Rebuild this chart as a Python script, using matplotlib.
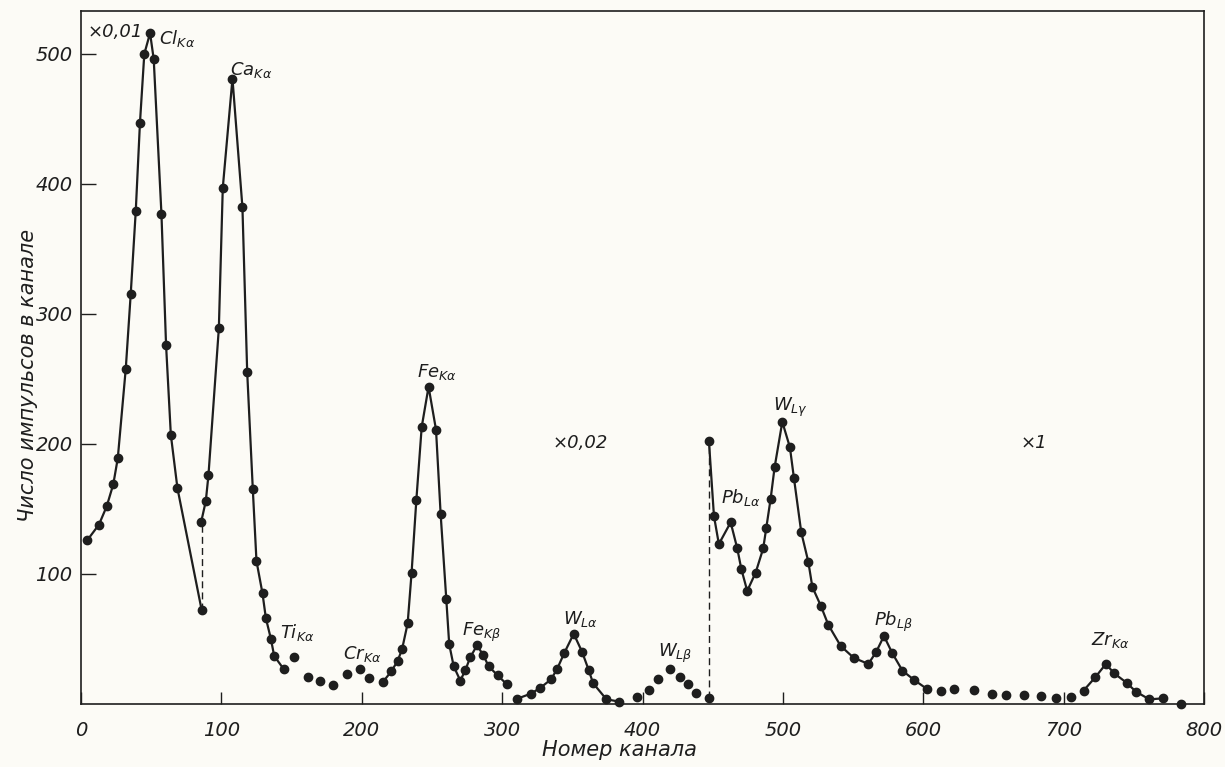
import matplotlib
matplotlib.use('Agg')
import matplotlib.pyplot as plt

plt.rcParams['font.family'] = ['Liberation Sans Narrow', 'DejaVu Sans']
plt.rcParams['font.style'] = 'italic'
plt.rcParams['mathtext.fontset'] = 'dejavusans'

# Cl Ka peak (x0.01), ends at the dashed step
cl_ch = [4.5, 12.8, 18.3, 23, 26.2, 31.9, 35.4, 39, 42, 45.1, 49.2, 51.8, 57.3, 60.6, 64, 68.7, 86]
cl_cnt = [126, 138, 152, 169, 189, 258, 315, 379, 447, 500, 516, 496, 377, 276, 207, 166, 72]

# Ca Ka peak
ca_ch = [85.6, 88.9, 90.8, 98.2, 101, 107.9, 115, 118.4, 122.4, 125, 129.3, 131.7, 135.3, 137.6, 144.3]
ca_cnt = [140, 156, 176, 289, 397, 481, 382, 255, 165, 110, 85, 66, 50, 37, 27]

# loose points Ti / Cr region
ti_ch = [151.4, 162, 170.4, 179.5, 189.4, 198.5, 205.3]
ti_cnt = [36, 21, 18, 14.6, 23, 27, 20]

# Cr -> Fe Ka -> Fe Kb
fe_ch = [215.1, 221, 225.5, 228.7, 232.7, 235.5, 238.9, 242.7, 247.6, 252.9, 256.2, 260.2, 262.3,
         265.5, 270.2, 273.8, 277.3, 282.1, 286.4, 290.4, 296.8, 303.5]
fe_cnt = [17, 25, 33, 42, 62, 101, 157, 213, 244, 211, 146, 81, 46,
          29, 18, 26, 36, 45, 38, 29, 22, 15]

# W La
wla_ch = [310.6, 320.6, 327.3, 334.9, 339.2, 344.4, 351, 357, 361.7, 364.8, 374.3, 383.6]
wla_cnt = [4, 8, 12.5, 19, 27, 39.5, 54, 40, 26, 16, 3.6, 1.8]

# W Lb loose points
wlb_ch = [396.2, 404.5, 411.2, 419.5, 426.6, 432.3, 437.8, 447.3]
wlb_cnt = [5, 10.8, 19, 26.7, 20.5, 15, 8.7, 4.4]

# Pb La, W Lg, Pb Lb (x1)
wlg_ch = [447.3, 450.9, 454.4, 462.8, 467.5, 470.4, 474.6, 480.6, 486, 488.2, 491.3, 494.1, 499.6,
          505, 507.9, 513.1, 518.1, 521, 527, 532.4, 541.2, 550.5, 560.9, 566.6, 572, 578, 585.2,
          593.5, 603]
wlg_cnt = [202.5, 144.6, 123, 139.7, 119.7, 103.8, 87, 101, 119.7, 135.6, 158, 182, 217,
           197.5, 173.6, 132, 109.5, 90, 75.6, 60.8, 44.6, 35.5, 30.8, 40.3, 52.3, 39, 25.6,
           18.5, 11.3]

# background loose points
bg_ch = [612.5, 622, 635.8, 649.3, 658.8, 671.9, 684.2, 694.5, 705.6, 783.6]
bg_cnt = [10.3, 11.3, 10.8, 7.7, 6.9, 6.9, 6.2, 4.3, 5, 0]

# Zr Ka
zr_ch = [714.2, 722.5, 730.1, 736, 744.8, 751.5, 761, 770.5]
zr_cnt = [10.3, 20.5, 30.8, 23.6, 16.4, 9.5, 3.6, 4.3]

# dashed scale steps
step_ch = [86, 447.3]
step_lo = [72, 4.4]
step_hi = [140, 202.5]

labels = [
    (5, 517, '×0,01'), (55.6, 512, r'Cl$_{K\alpha}$'), (106, 488, r'Ca$_{K\alpha}$'),
    (141.9, 55, r'Ti$_{K\alpha}$'), (186.8, 38.5, r'Cr$_{K\alpha}$'), (239.6, 255, r'Fe$_{K\alpha}$'),
    (335.8, 201, '×0,02'), (271.7, 55.4, r'Fe$_{K\beta}$'), (343.7, 65.4, r'W$_{L\alpha}$'),
    (410.7, 39, r'W$_{L\beta}$'), (455.6, 158.5, r'Pb$_{L\alpha}$'), (492.7, 228.5, r'W$_{L\gamma}$'),
    (669.5, 201, '×1'), (564.7, 63, r'Pb$_{L\beta}$'), (719.4, 49, r'Zr$_{K\alpha}$'),
]

ink = '#1e1e1e'
fig = plt.figure(figsize=(12.25, 7.67), dpi=100, facecolor='#fcfbf6')
ax = fig.add_axes([81 / 1225, 1 - 704 / 767, 1123 / 1225, 693 / 767])
ax.set_facecolor('#fcfbf6')

for xs, ys in [(cl_ch, cl_cnt), (ca_ch, ca_cnt), (fe_ch, fe_cnt), (wla_ch, wla_cnt),
               (wlg_ch, wlg_cnt), (zr_ch, zr_cnt)]:
    ax.plot(xs, ys, '-o', color=ink, lw=1.6, ms=6, clip_on=False)
for xs, ys in [(ti_ch, ti_cnt), (wlb_ch, wlb_cnt), (bg_ch, bg_cnt)]:
    ax.plot(xs, ys, 'o', color=ink, ms=6, clip_on=False)
ax.vlines(step_ch, step_lo, step_hi, colors=ink, lw=1.0, linestyles=(0, (5, 3)))

for x, y, s in labels:
    ax.text(x, y, s, fontsize=13, color=ink, ha='left', va='center')

ax.set_xlim(0, 800)
ax.set_ylim(0, 533)
ax.set_xticks(range(0, 801, 100))
ax.set_yticks(range(100, 501, 100))
ax.tick_params(axis='x', direction='in', length=9, width=1.0, pad=12, labelsize=14, colors=ink)
ax.tick_params(axis='y', direction='in', length=11, width=1.0, pad=6, labelsize=14, colors=ink)
for sp in ax.spines.values():
    sp.set_linewidth(1.2)
    sp.set_color(ink)

fig.text(28 / 1225, 1 - 375 / 767, 'Число импульсов в канале', rotation=90,
         ha='center', va='center', fontsize=15, color=ink)
fig.text(619 / 1225, 1 - 750 / 767, 'Номер канала', ha='center', va='center',
         fontsize=15, color=ink)

fig.savefig('out.png', dpi=100, facecolor=fig.get_facecolor())
